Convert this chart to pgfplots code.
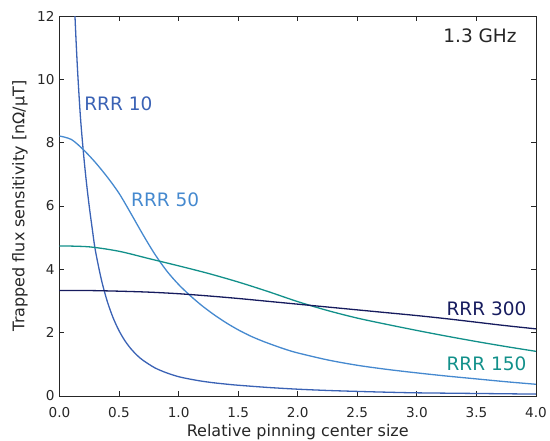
\documentclass[border=0pt]{standalone}
\usepackage{fontspec}
\setmainfont{DejaVu Sans}
\usepackage{pgfplots}
\pgfplotsset{compat=1.18}

\definecolor{c10}{HTML}{3A62B5}
\definecolor{c50}{HTML}{4589CF}
\definecolor{c150}{HTML}{12908A}
\definecolor{c300}{HTML}{161B5E}
\definecolor{axgray}{HTML}{262626}

\begin{document}
\begin{tikzpicture}
\useasboundingbox (-59.5pt,-44pt) rectangle (490.5pt,396pt);
\begin{axis}[
  width=476.5pt, height=380pt, scale only axis,
  xmin=0, xmax=4, ymin=0, ymax=12,
  xtick={0,0.5,...,4}, ytick={0,2,...,12},
  tick align=inside, xtick pos=both, ytick pos=both,
  major tick length=5pt,
  axis line style={axgray, line width=0.8pt},
  tick style={axgray, line width=0.8pt},
  /pgf/number format/assume math mode=true,
  ticklabel style={font=\fontsize{13.6}{16}\selectfont, text=axgray},
  xticklabel style={yshift=-8pt, /pgf/number format/.cd, fixed, fixed zerofill, precision=1},
  yticklabel style={xshift=-1.5pt},
  xlabel={Relative pinning center size},
  ylabel={Trapped flux sensitivity [nΩ/μT]},
  label style={font=\fontsize{16}{19}\selectfont, text=axgray},
  xlabel style={at={(axis description cs:0.5,-0.096)}, anchor=center},
  ylabel style={at={(axis description cs:-0.083,0.5)}, anchor=center},
  every axis plot/.append style={line width=1.3pt, smooth, tension=0.5},
]
% RRR 10
\addplot[c10] coordinates {
  (0.12,13.3) (0.13,12.0) (0.15,10.4) (0.175,8.85) (0.2,7.72) (0.225,6.78)
  (0.25,5.98) (0.275,5.28) (0.3,4.62) (0.35,3.70) (0.4,3.00) (0.45,2.47)
  (0.5,2.06) (0.55,1.74) (0.6,1.49) (0.65,1.29) (0.7,1.13) (0.8,0.89)
  (0.9,0.73) (1.0,0.61) (1.1,0.53) (1.2,0.465) (1.3,0.415) (1.4,0.375)
  (1.5,0.34) (1.75,0.27) (2.0,0.215) (2.25,0.175) (2.5,0.145) (2.75,0.12)
  (3.0,0.10) (3.5,0.08) (4.0,0.06)
};
% RRR 50
\addplot[c50] coordinates {
  (0,8.21) (0.1,8.10) (0.2,7.78) (0.3,7.38) (0.4,6.92) (0.5,6.40)
  (0.6,5.76) (0.7,5.10) (0.8,4.48) (0.9,3.95) (1.0,3.52) (1.1,3.16)
  (1.2,2.84) (1.3,2.56) (1.4,2.31) (1.5,2.09) (1.6,1.90) (1.7,1.74)
  (1.8,1.60) (1.9,1.47) (2.0,1.36) (2.25,1.14) (2.5,0.97) (2.75,0.84)
  (3.0,0.73) (3.25,0.63) (3.5,0.54) (3.75,0.45) (4.0,0.37)
};
% RRR 150
\addplot[c150] coordinates {
  (0,4.74) (0.25,4.71) (0.5,4.57) (0.75,4.34) (1.0,4.11) (1.25,3.87)
  (1.5,3.60) (1.75,3.30) (2.0,2.98) (2.25,2.70) (2.5,2.46) (2.75,2.26)
  (3.0,2.07) (3.25,1.89) (3.5,1.72) (3.75,1.56) (4.0,1.41)
};
% RRR 300
\addplot[c300] coordinates {
  (0,3.33) (0.25,3.33) (0.5,3.31) (0.75,3.28) (1.0,3.23) (1.25,3.16)
  (1.5,3.08) (1.75,2.99) (2.0,2.90) (2.25,2.81) (2.5,2.72) (2.75,2.63)
  (3.0,2.54) (3.25,2.44) (3.5,2.33) (3.75,2.22) (4.0,2.12)
};
\node[c10, font=\fontsize{18.5}{22}\selectfont] at (axis cs:0.494,9.23) {RRR 10};
\node[c50, font=\fontsize{18.5}{22}\selectfont] at (axis cs:0.887,6.2) {RRR 50};
\node[c300, font=\fontsize{18.5}{22}\selectfont] at (axis cs:3.584,2.75) {RRR 300};
\node[c150, font=\fontsize{18.5}{22}\selectfont] at (axis cs:3.584,1.02) {RRR 150};
\node[axgray, font=\fontsize{18.5}{22}\selectfont] at (axis cs:3.53,11.38) {1.3 GHz};
\end{axis}
\end{tikzpicture}
\end{document}
